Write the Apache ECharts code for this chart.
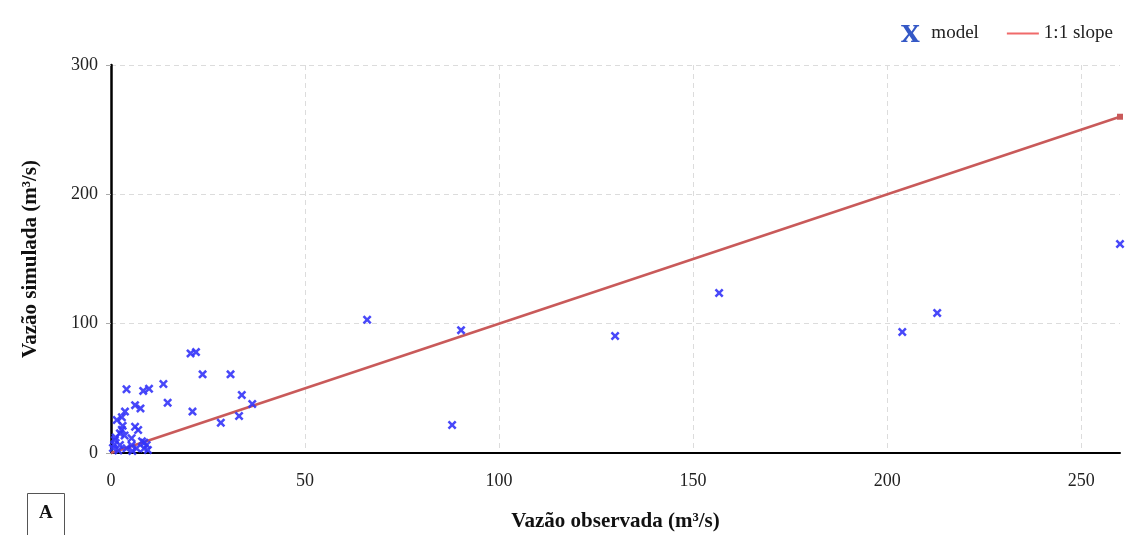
<!DOCTYPE html>
<html>
<head>
<meta charset="utf-8">
<script src="https://cdn.jsdelivr.net/npm/echarts@6/dist/echarts.min.js"></script>
<style>html,body{margin:0;padding:0;background:#fff;}#c{width:1126px;height:535px;}</style>
</head>
<body>
<div id="c"></div>
<script>
// Observed (x) vs simulated (y) discharge, m³/s
const observed = [66, 90.2, 129.9, 156.7, 203.9, 212.9, 260, 87.9,
  20.5, 21.9, 23.6, 30.8, 33.7, 36.4, 33, 28.3, 21, 14.6, 13.5, 9.8, 8.3, 4,
  6.2, 7.6, 3.6, 2.8, 1.5, 6.2, 7, 2.3, 1, 5.3, 9.2, 8.5, 9.5, 2.3, 0.5, 4, 6.6, 1.9, 5.3,
  3.5, 8, 3, 1.2, 2.8, 0.8, 5.5, 8.6];
const simulated = [103, 95, 90.5, 123.7, 93.6, 108.3, 161.6, 21.7,
  77, 78, 60.8, 60.8, 44.8, 37.9, 28.6, 23.4, 32, 38.9, 53.4, 49.7, 48, 49.3,
  37, 34.5, 32, 27.6, 25.5, 20.3, 17.8, 15.2, 10, 11.4, 6.2, 3.5, 2.3, 6.2, 3.9, 3.6, 3.6, 2, 6,
  13.5, 9, 21, 12, 18, 6.5, 1.5, 8];
const slopeLine = [[0, 0], [260, 260]];
const xTicks = [0, 50, 100, 150, 200, 250];
const yTicks = [0, 100, 200, 300];

const xShape = 'path://M2,0 L5,3 L8,0 L10,2 L7,5 L10,8 L8,10 L5,7 L2,10 L0,8 L3,5 L0,2 Z';
const serifX = 'path://M0,0 L9,0 L9,1.3 L7.3,1.5 L11,7 L14.5,1.5 L12.8,1.3 L12.8,0 L19,0 L19,1.3 L17.3,1.6 L12.4,8.6 L17.8,16.4 L19.5,16.7 L19.5,18 L10.5,18 L10.5,16.7 L12.2,16.5 L8.6,11.1 L5,16.5 L6.7,16.7 L6.7,18 L0,18 L0,16.7 L1.7,16.4 L7.3,9.4 L2.2,1.6 L0,1.3 Z';
const lineIcon = 'path://M0,0 L0.01,0 L0.01,0.01 Z M0,7 L32,7 L32,9 L0,9 Z M31.99,15.99 L32,15.99 L32,16 Z';
const serif = '"Liberation Serif", "DejaVu Serif", serif';

const chart = echarts.init(document.getElementById('c'));
chart.setOption({
  animation: false,
  backgroundColor: '#fff',
  textStyle: { fontFamily: serif },
  grid: { left: 111, right: 6, top: 65, bottom: 82, containLabel: false, outerBoundsMode: 'none' },
  legend: {
    right: 8, top: 19, itemGap: 28, itemWidth: 32, itemHeight: 17,
    textStyle: { fontFamily: serif, fontSize: 19, color: '#222' },
    data: [
      { name: 'model', icon: serifX, itemStyle: { color: '#1e46c0' } },
      { name: '1:1 slope', icon: lineIcon, itemStyle: { color: '#f06a6a' } }
    ]
  },
  xAxis: {
    type: 'value', min: 0, max: 260, interval: 50,
    name: 'Vazão observada (m³/s)', nameLocation: 'middle', nameGap: 58,
    nameTextStyle: { fontFamily: serif, fontSize: 21, fontWeight: 'bold', color: '#111' },
    axisLine: { show: true, onZero: false, lineStyle: { color: '#000', width: 2 } },
    axisTick: { show: false },
    axisLabel: { fontFamily: serif, fontSize: 18, color: '#222', margin: 19, showMaxLabel: false,
      formatter: v => xTicks.includes(v) ? String(v) : '' },
    splitLine: { show: true, showMaxLine: false, lineStyle: { color: '#dcdcdc', type: [5, 4], width: 1 } }
  },
  yAxis: {
    type: 'value', min: 0, max: 300, interval: 100,
    name: 'Vazão simulada (m³/s)', nameLocation: 'middle', nameGap: 70, nameRotate: 90,
    nameTextStyle: { fontFamily: serif, fontSize: 21, fontWeight: 'bold', color: '#111' },
    axisLine: { show: true, lineStyle: { color: '#000', width: 2.5 } },
    axisTick: { show: true, length: 5, lineStyle: { color: '#aaa' } },
    axisLabel: { fontFamily: serif, fontSize: 18, color: '#222', margin: 13,
      formatter: v => yTicks.includes(v) ? String(v) : '' },
    splitLine: { show: true, lineStyle: { color: '#dcdcdc', type: [5, 4], width: 1 } }
  },
  series: [
    {
      name: 'model', type: 'scatter', symbol: xShape, symbolSize: 9,
      itemStyle: { color: '#3434f8', opacity: 0.9 },
      data: observed.map((x, i) => [x, simulated[i]]), z: 3
    },
    {
      name: '1:1 slope', type: 'line', data: slopeLine,
      symbol: 'none',
      lineStyle: { color: '#c95a5a', width: 2.5 }, itemStyle: { color: '#f06a6a' },
      markPoint: { symbol: 'rect', symbolSize: 6, itemStyle: { color: '#c95a5a' },
        label: { show: false }, data: [{ coord: slopeLine[1] }] },
      z: 2
    }
  ],
  graphic: [
    { type: 'rect', left: 27, top: 493, shape: { width: 37, height: 45 },
      style: { fill: '#fff', stroke: '#555', lineWidth: 1 } },
    { type: 'text', left: 39, top: 504,
      style: { text: 'A', font: 'bold 19px ' + serif, fill: '#111' } }
  ]
});
</script>
</body>
</html>
